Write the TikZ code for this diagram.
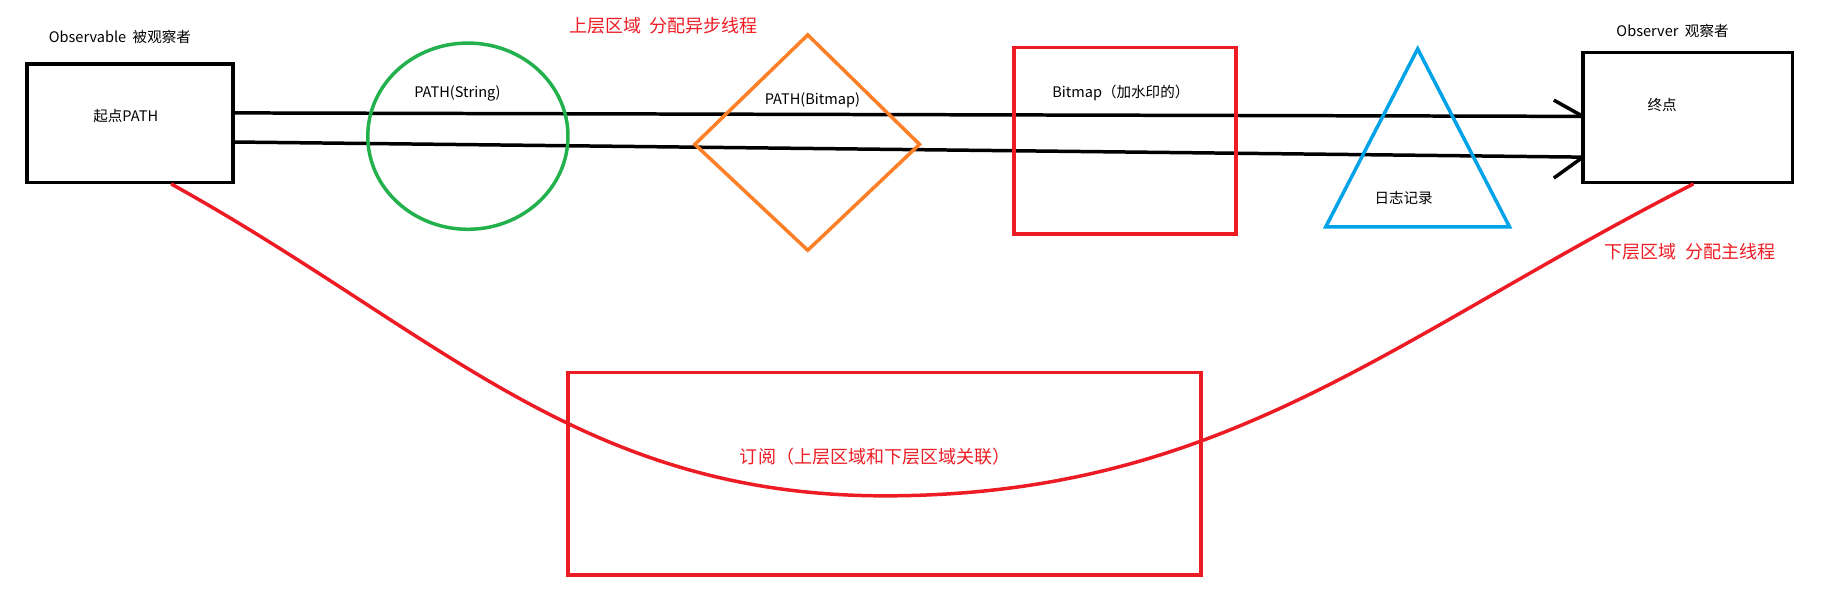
\documentclass[tikz,border=0pt]{standalone}
\usepackage{fontspec}
\setmainfont{Noto Sans CJK SC}
\usetikzlibrary{shapes.geometric}
\definecolor{rred}{RGB}{237,28,36}
\definecolor{rgreen}{RGB}{34,177,76}
\definecolor{rorange}{RGB}{255,127,39}
\definecolor{rblue}{RGB}{0,162,232}
\begin{document}
\begin{tikzpicture}[x=1pt,y=-1pt,line width=3pt,
  lbl/.style={font=\fontsize{12.5}{14}\selectfont,inner sep=0pt},
  rlbl/.style={font=\fontsize{15.5}{18}\selectfont,text=rred,inner sep=0pt}]
\useasboundingbox (0,0) rectangle (1568,522);
% boxes
\draw (23,55) rectangle (200,157);
\draw (1360,45) rectangle (1540,157);
\coordinate (a1) at (200,97); \coordinate (b1) at (1360,100);
\coordinate (a2) at (200,122); \coordinate (b2) at (1360,135);
\draw (a1) -- (b1); \draw (a2) -- (b2);
\draw (1335,86) -- (b1); \draw (1335,153) -- (b2);
% shapes
\draw[rgreen] (402,117) ellipse (86 and 80);
\draw[rorange] (694,30) -- (790,124) -- (694,215) -- (597,124) -- cycle;
\draw[rred] (871,41) rectangle (1062,201);
\draw[rblue] (1218,42) -- (1297,195) -- (1139,195) -- cycle;
% curve and bottom box
\draw[rred] (147,158) to[out=-29,in=180] (760,426) to[out=0,in=-153] (1455,158);
\draw[rred] (488,320) rectangle (1032,494);
% labels
\node[lbl] (t1) at (103,32) {Observable\ \ 被观察者};
\node[lbl] (t2) at (108,100) {起点PATH};
\node[lbl] (t3) at (1437,27) {Observer\ \ 观察者};
\node[lbl] (t4) at (1428,90) {终点};
\node[lbl] (t5) at (393,80) {PATH(String)};
\node[lbl] (t6) at (698,86) {PATH(Bitmap)};
\node[lbl] (t7) at (963,80) {Bitmap（加水印的）};
\node[lbl] (t8) at (1206,170) {日志记录};
\node[rlbl] (t9) at (570,22) {上层区域\ \ 分配异步线程};
\node[rlbl] (t10) at (1452,216) {下层区域\ \ 分配主线程};
\node[rlbl] (t11) at (752,392) {订阅（上层区域和下层区域关联）};
\end{tikzpicture}
\end{document}
